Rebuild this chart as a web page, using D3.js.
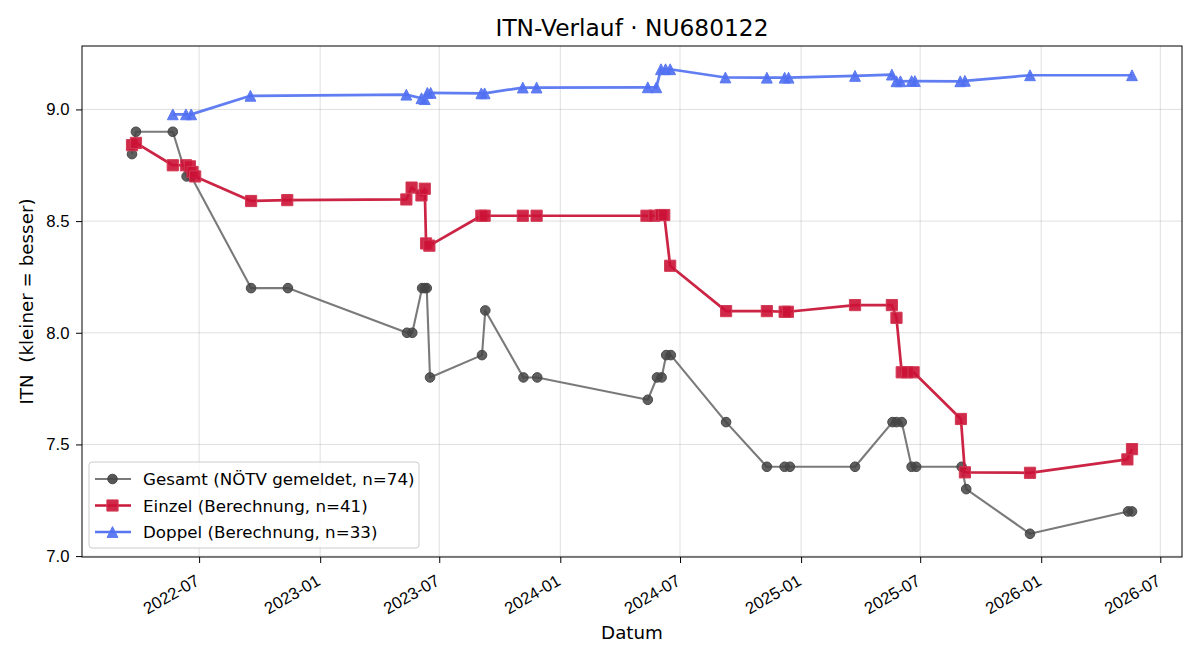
<!DOCTYPE html>
<html>
<head>
<meta charset="utf-8">
<script src="https://cdn.jsdelivr.net/npm/d3@7"></script>
<style>
  body { margin: 0; background: #fff; }
  svg { font-family: "DejaVu Sans", sans-serif; }
</style>
</head>
<body>
<svg id="chart" width="1200" height="660"></svg>
<script>
// Gesamt (NÖTV gemeldet)
const gesamtDates = ["2022-03-21","2022-03-27","2022-05-22","2022-06-12","2022-06-19","2022-09-18","2022-11-13",
  "2023-05-13","2023-05-21","2023-06-05","2023-06-09","2023-06-12","2023-06-17","2023-09-04","2023-09-09",
  "2023-11-06","2023-11-27","2024-05-13","2024-05-27","2024-06-03","2024-06-10","2024-06-17","2024-09-09",
  "2024-11-10","2024-12-07","2024-12-15","2025-03-24","2025-05-20","2025-05-26","2025-06-03","2025-06-18",
  "2025-06-25","2025-09-02","2025-09-09","2025-12-15","2026-05-13","2026-05-19"]
const gesamtValues = [8.8,8.9,8.9,8.7,8.7,8.2,8.2,
  8.0,8.0,8.2,8.2,8.2,7.8,7.9,8.1,
  7.8,7.8,7.7,7.8,7.8,7.9,7.9,7.6,
  7.4,7.4,7.4,7.4,7.6,7.6,7.6,7.4,
  7.4,7.4,7.3,7.1,7.2,7.2]

// Einzel (Berechnung)
const einzelDates = ["2022-03-21","2022-03-27","2022-05-22","2022-06-11","2022-06-17","2022-06-21","2022-06-25",
  "2022-09-18","2022-11-12","2023-05-12","2023-05-20","2023-06-04","2023-06-09","2023-06-11","2023-06-16",
  "2023-09-03","2023-09-08","2023-11-05","2023-11-26","2024-05-11","2024-05-23","2024-06-02","2024-06-07",
  "2024-06-16","2024-09-09","2024-11-10","2024-12-07","2024-12-12","2025-03-24","2025-05-19","2025-05-26",
  "2025-06-03","2025-06-11","2025-06-21","2025-09-01","2025-09-07","2025-12-15","2026-05-12","2026-05-19"]
const einzelValues = [8.84,8.85,8.75,8.75,8.745,8.72,8.70,
  8.59,8.594,8.597,8.65,8.615,8.645,8.40,8.39,
  8.524,8.524,8.524,8.524,8.524,8.524,8.527,8.527,
  8.30,8.097,8.097,8.094,8.094,8.124,8.124,8.067,
  7.823,7.823,7.823,7.614,7.375,7.373,7.433,7.479]

// Doppel (Berechnung)
const doppelDates = ["2022-05-22","2022-06-11","2022-06-19","2022-09-17","2023-05-12","2023-06-04","2023-06-09",
  "2023-06-13","2023-06-18","2023-09-03","2023-09-08","2023-11-05","2023-11-26","2024-05-13","2024-05-26",
  "2024-06-02","2024-06-09","2024-06-16","2024-09-08","2024-11-10","2024-12-07","2024-12-13","2025-03-24",
  "2025-05-19","2025-05-26","2025-06-01","2025-06-18","2025-06-23","2025-08-31","2025-09-07","2025-12-15","2026-05-19"]
const doppelValues = [8.978,8.978,8.978,9.061,9.066,9.05,9.046,
  9.074,9.074,9.072,9.072,9.098,9.098,9.099,9.099,
  9.18,9.18,9.18,9.143,9.142,9.142,9.142,9.15,
  9.156,9.126,9.126,9.127,9.127,9.126,9.128,9.153,9.153]

const legendLabels = ["Gesamt (NÖTV gemeldet, n=74)", "Einzel (Berechnung, n=41)", "Doppel (Berechnung, n=33)"]
const yTicks = [7.0, 7.5, 8.0, 8.5, 9.0]

const parse = d3.utcParse("%Y-%m-%d")
const toPoints = (dates, values) => dates.map((d, i) => ({date: parse(d), value: values[i]}))

const series = [
  {name: legendLabels[0], points: toPoints(gesamtDates, gesamtValues), line: "#7a7a7a", fill: "#444", stroke: "#484848", width: 2.1, marker: "circle"},
  {name: legendLabels[1], points: toPoints(einzelDates, einzelValues), line: "#c9183a", fill: "#cc1236", stroke: "#d23a55", width: 2.7, marker: "square"},
  {name: legendLabels[2], points: toPoints(doppelDates, doppelValues), line: "#5776f0", fill: "#4f6ef2", stroke: "#5b79f2", width: 2.7, marker: "triangle"}
]

const margin = {top: 46, right: 18, bottom: 103, left: 82}
const width = 1200, height = 660
const innerW = width - margin.left - margin.right
const innerH = height - margin.top - margin.bottom

// matplotlib-style 5% margins
const allPts = series.flatMap(s => s.points)
const [tMin, tMax] = d3.extent(allPts, p => +p.date)
const tPad = (tMax - tMin) * 0.05
const [vMin, vMax] = d3.extent(allPts, p => p.value)
const vPad = (vMax - vMin) * 0.05

const x = d3.scaleUtc().domain([tMin - tPad, tMax + tPad]).range([0, innerW])
const y = d3.scaleLinear().domain([vMin - vPad, vMax + vPad]).range([innerH, 0])

const svg = d3.select("#chart")
const g = svg.append("g").attr("transform", `translate(${margin.left},${margin.top})`)

const xTicks = d3.utcMonth.every(6).range(new Date(Date.UTC(2022, 0, 1)), new Date(Date.UTC(2027, 0, 1)))
  .filter(t => x(t) >= 2 && x(t) <= innerW)

// grid
g.append("g").selectAll("line").data(xTicks).join("line")
  .attr("x1", d => x(d)).attr("x2", d => x(d)).attr("y1", 0).attr("y2", innerH)
  .attr("stroke", "#b0b0b0").attr("stroke-opacity", 0.4).attr("stroke-width", 1)
g.append("g").selectAll("line").data(yTicks).join("line")
  .attr("y1", d => y(d)).attr("y2", d => y(d)).attr("x1", 0).attr("x2", innerW)
  .attr("stroke", "#b0b0b0").attr("stroke-opacity", 0.4).attr("stroke-width", 1)

const markerPath = (type, cx, cy) => {
  if (type === "square") { const s = 5.6; return `M${cx - s},${cy - s}h${2 * s}v${2 * s}h${-2 * s}Z` }
  if (type === "triangle") { const s = 5.4; return `M${cx},${cy - s}L${cx + s},${cy + s}L${cx - s},${cy + s}Z` }
  const r = 4.8
  return `M${cx - r},${cy}a${r},${r} 0 1,0 ${2 * r},0a${r},${r} 0 1,0 ${-2 * r},0Z`
}

const line = d3.line().x(p => x(p.date)).y(p => y(p.value))

series.forEach(s => {
  const grp = g.append("g")
  grp.append("path").datum(s.points).attr("d", line)
    .attr("fill", "none").attr("stroke", s.line).attr("stroke-width", s.width)
    .attr("stroke-linejoin", "round").attr("stroke-opacity", s.marker === "circle" ? 1 : 0.95)
  grp.selectAll(".m").data(s.points).join("path").attr("class", "m")
    .attr("d", p => markerPath(s.marker, x(p.date), y(p.value)))
    .attr("fill", s.fill).attr("fill-opacity", s.marker === "circle" ? 0.85 : 0.9)
    .attr("stroke", s.stroke).attr("stroke-width", 1)
})

// axes
const xAxis = g.append("g").attr("transform", `translate(0,${innerH})`)
  .call(d3.axisBottom(x).tickValues(xTicks).tickFormat(d3.utcFormat("%Y-%m")).tickSizeOuter(0).tickSize(6))
xAxis.select(".domain").remove()
xAxis.selectAll("text")
  .attr("font-size", 16.7).attr("fill", "#000")
  .attr("text-anchor", "end")
  .attr("dy", 0).attr("y", 0)
  .attr("transform", "translate(1,27) rotate(-30)")
xAxis.selectAll("line").attr("stroke", "#000")

const yAxis = g.append("g")
  .call(d3.axisLeft(y).tickValues(yTicks).tickFormat(d3.format(".1f")).tickSizeOuter(0).tickSize(6))
yAxis.select(".domain").remove()
yAxis.selectAll("text").attr("font-size", 16.7).attr("fill", "#000").attr("x", -12.5)
yAxis.selectAll("line").attr("stroke", "#000")

g.append("rect").attr("width", innerW).attr("height", innerH)
  .attr("fill", "none").attr("stroke", "#000").attr("stroke-width", 1)

// labels
svg.append("text").attr("x", margin.left + innerW / 2).attr("y", 36)
  .attr("text-anchor", "middle").attr("font-size", 23.3).text("ITN-Verlauf · NU680122")
svg.append("text").attr("x", margin.left + innerW / 2).attr("y", 639)
  .attr("text-anchor", "middle").attr("font-size", 18.3).text("Datum")
svg.append("text").attr("transform", `translate(33,${margin.top + innerH / 2}) rotate(-90)`)
  .attr("text-anchor", "middle").attr("font-size", 18.3).text("ITN\u00a0\u00a0(kleiner = besser)")

// legend
const lg = g.append("g").attr("transform", "translate(7,416)")
lg.append("rect").attr("width", 330).attr("height", 86).attr("rx", 3)
  .attr("fill", "#fff").attr("fill-opacity", 0.8).attr("stroke", "#ccc")
series.forEach((s, i) => {
  const cy = 17 + i * 26.5
  lg.append("line").attr("x1", 6).attr("x2", 42).attr("y1", cy).attr("y2", cy)
    .attr("stroke", s.line).attr("stroke-width", s.width)
  lg.append("path").attr("d", markerPath(s.marker, 23.5, cy))
    .attr("fill", s.fill).attr("fill-opacity", 0.9).attr("stroke", s.stroke)
  lg.append("text").attr("x", 54).attr("y", cy + 6).attr("font-size", 16.7).text(s.name)
})
</script>
</body>
</html>
